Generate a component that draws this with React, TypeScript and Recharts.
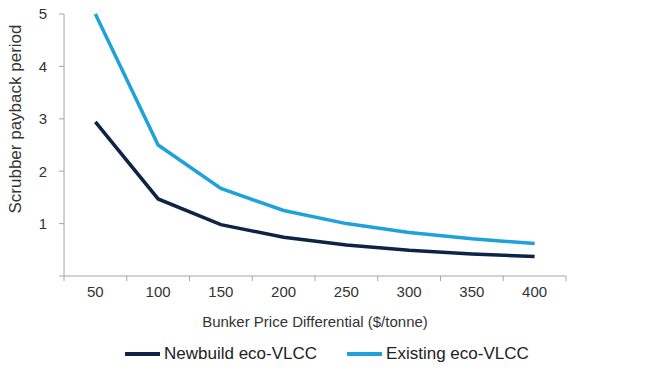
import { LineChart, Line, XAxis, YAxis, Legend } from 'recharts'

const NAVY = '#0d2447'
const SKY  = '#1ea2d9'

// bunker price differential ($/tonne)
const categories = [50, 100, 150, 200, 250, 300, 350, 400]
const newbuild   = [2.94, 1.47, 0.98, 0.74, 0.59, 0.49, 0.42, 0.37]
const existing   = [5.0, 2.5, 1.67, 1.25, 1.0, 0.83, 0.71, 0.62]
// boundaries between categories carry the tick marks
const xTicks = [25, 50, 75, 100, 125, 150, 175, 200, 225, 250, 275, 300, 325, 350, 375, 400, 425]
const yTicks = [0, 1, 2, 3, 4, 5]
const seriesNames = ['Newbuild eco-VLCC', 'Existing eco-VLCC']

const data = categories.map((c, i) => ({
  x: c,
  newbuild: newbuild[i],
  existing: existing[i],
}))

const categorySet = new Set(categories)

function XTick({ x, y, payload }: any) {
  const v = payload.value
  if (categorySet.has(v)) {
    return (
      <text x={x} y={y + 21} textAnchor="middle" fill="#333" fontSize={15}>
        {v}
      </text>
    )
  }
  return <line x1={x} x2={x} y1={y} y2={y + 5} stroke="#a6a6a6" strokeWidth={1} />
}

function LegendContent({ payload }: any) {
  const items = [...(payload || [])].sort(
    (a: any, b: any) => seriesNames.indexOf(a.value) - seriesNames.indexOf(b.value)
  )
  return (
    <div style={{ display: 'flex', alignItems: 'center', gap: 30 }}>
      {items.map((p: any, i: number) => (
        <div key={i} style={{ display: 'flex', alignItems: 'center', gap: 4 }}>
          <span style={{ display: 'inline-block', width: 35, height: 3.5, background: p.color }} />
          <span style={{ fontSize: 17, color: '#222' }}>{p.value}</span>
        </div>
      ))}
    </div>
  )
}

export default function App() {
  return (
    <div style={{ position: 'absolute', left: 0, top: 0, width: 670, height: 380, background: '#fff', fontFamily: 'Arial, "Liberation Sans", sans-serif' }}>
      <LineChart width={670} height={380} data={data} margin={{ top: 14, right: 104, bottom: 24, left: 0 }}>
        <XAxis
          dataKey="x"
          type="number"
          domain={[25, 425]}
          ticks={xTicks}
          interval={0}
          tick={<XTick />}
          tickLine={false}
          tickSize={0}
          tickMargin={0}
          stroke="#a6a6a6"
          height={60}
          label={{
            content: ({ viewBox }: any) => (
              <text
                x={viewBox.x + viewBox.width / 2}
                y={viewBox.y + 45}
                textAnchor="middle"
                dominantBaseline="central"
                fill="#333"
                fontSize={15}
              >
                Bunker Price Differential ($/tonne)
              </text>
            ),
          }}
        />
        <YAxis
          domain={[0, 5]}
          ticks={yTicks}
          interval={0}
          width={64}
          stroke="#a6a6a6"
          tickSize={5}
          tickMargin={12}
          tick={{ fill: '#333', fontSize: 15 }}
          tickFormatter={(v: number) => (v === 0 ? '' : String(v))}
          label={{
            content: ({ viewBox }: any) => {
              const cx = 15
              const cy = viewBox.y + viewBox.height / 2 - 26
              return (
                <text
                  x={cx}
                  y={cy}
                  transform={`rotate(-90 ${cx} ${cy})`}
                  textAnchor="middle"
                  dominantBaseline="central"
                  fill="#333"
                  fontSize={17}
                >
                  Scrubber payback period
                </text>
              )
            },
          }}
        />
        <Line
          name={seriesNames[0]}
          dataKey="newbuild"
          stroke={NAVY}
          strokeWidth={3.5}
          dot={false}
          isAnimationActive={false}
        />
        <Line
          name={seriesNames[1]}
          dataKey="existing"
          stroke={SKY}
          strokeWidth={3.5}
          dot={false}
          isAnimationActive={false}
        />
        <Legend
          verticalAlign="bottom"
          content={<LegendContent />}
          wrapperStyle={{ left: 125, bottom: 16, width: 'auto' }}
        />
      </LineChart>
    </div>
  )
}
